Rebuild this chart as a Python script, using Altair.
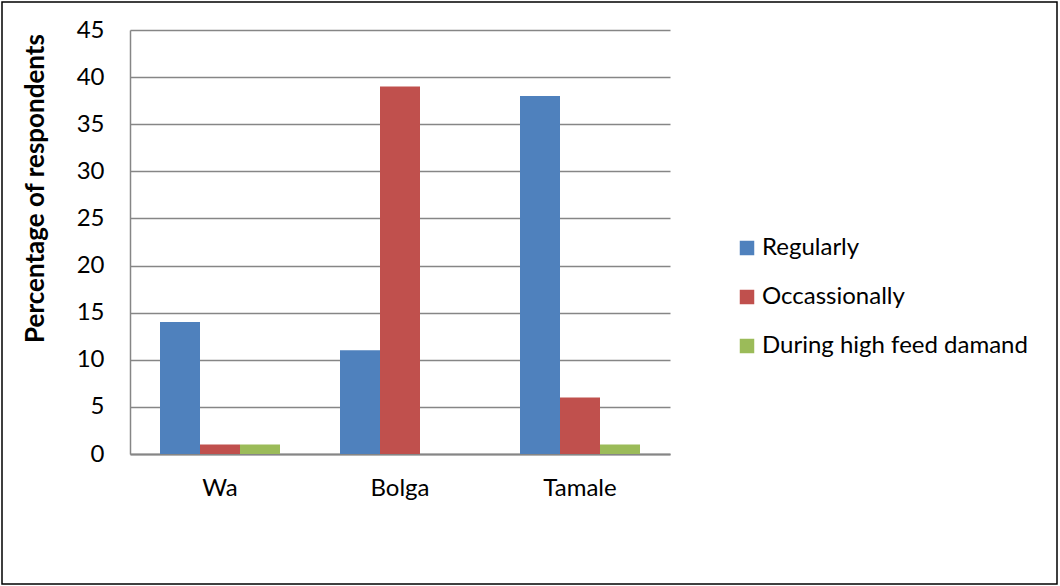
import altair as alt
import pandas as pd

categories = ["Wa", "Bolga", "Tamale"]
series = ["Regularly", "Occassionally", "During high feed damand"]
regularly = [14, 11, 38]
occassionally = [1, 39, 6]
high_demand = [1, 0, 1]
colors = ["#4F81BD", "#C0504D", "#9BBB59"]

rows = []
for i, c in enumerate(categories):
    for s, vals in zip(series, [regularly, occassionally, high_demand]):
        rows.append({"Location": c, "Series": s, "Value": vals[i]})
df = pd.DataFrame(rows)

FONT = "Lato"
FS = 24

bars = alt.Chart(df).mark_bar().encode(
    x=alt.X("Location:N", sort=categories,
            scale=alt.Scale(paddingInner=1/3, paddingOuter=1/6),
            axis=alt.Axis(title=None, labelAngle=0, ticks=False, labelPadding=22,
                          labelFontSize=FS, labelFont=FONT, labelColor="black",
                          domainColor="#868686", domainWidth=2, grid=False)),
    xOffset=alt.XOffset("Series:N", sort=series, scale=alt.Scale(paddingInner=0, paddingOuter=0)),
    y=alt.Y("Value:Q", scale=alt.Scale(domain=[0, 45], nice=False),
            axis=alt.Axis(values=list(range(0, 46, 5)), title="Percentage of respondents",
                          titleFont=FONT, titleFontSize=26, titleFontWeight="bold",
                          titleColor="black", titleAngle=270, titleX=-95, titleY=158,
                          titleAlign="center", titleBaseline="middle",
                          ticks=False, labelPadding=26, labelFontSize=FS, labelFont=FONT,
                          labelColor="black", domainColor="#868686", domainWidth=1.5,
                          gridColor="#868686", gridWidth=1.5)),
    color=alt.Color("Series:N", sort=series,
                    scale=alt.Scale(domain=series, range=colors),
                    legend=alt.Legend(title=None, orient="none", legendX=605, legendY=206,
                                      symbolType="square", symbolSize=210, symbolStrokeWidth=0,
                                      labelFontSize=FS, labelFont=FONT, labelColor="black",
                                      labelOffset=3, rowPadding=25, labelLimit=400)),
)

frame = alt.Chart(pd.DataFrame({"a": [0]})).mark_rect(
    fillOpacity=0, stroke="black", strokeWidth=1.5
).encode(
    x=alt.value(-128), x2=alt.value(927), y=alt.value(-28), y2=alt.value(554)
)

chart = alt.layer(bars, frame).properties(
    width=540, height=424,
    autosize=alt.AutoSizeParams(type="none"),
    padding={"left": 130, "top": 30, "right": 390, "bottom": 132},
    background="white",
).configure_view(stroke=None)

chart.save("out.html", embed_options={"renderer": "svg", "actions": False})
